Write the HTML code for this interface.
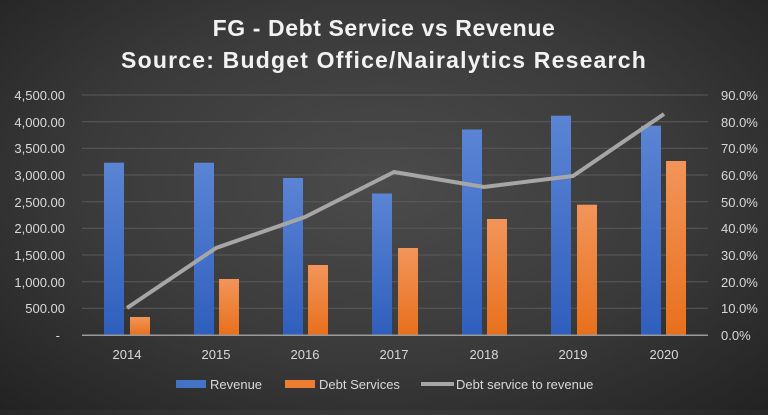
<!DOCTYPE html>
<html><head><meta charset="utf-8"><style>
html,body{margin:0;padding:0}
body{width:768px;height:410px;overflow:hidden;background:radial-gradient(ellipse at 50% 45%,#4b4b4b 0%,#3a3a3a 55%,#222 100%);font-family:"Liberation Sans",sans-serif}
</style></head><body>
<svg width="768" height="410" xmlns="http://www.w3.org/2000/svg" font-family="Liberation Sans, sans-serif">
<defs>
<linearGradient id="b" x1="0" y1="0" x2="0" y2="1"><stop offset="0" stop-color="#5b84d4"/><stop offset="1" stop-color="#2f5fbd"/></linearGradient>
<linearGradient id="o" x1="0" y1="0" x2="0" y2="1"><stop offset="0" stop-color="#f2955a"/><stop offset="1" stop-color="#e8701c"/></linearGradient>
</defs>
<text x="384" y="36" text-anchor="middle" fill="#f2f2f2" font-size="23" font-weight="bold" letter-spacing="0.6">FG - Debt Service vs Revenue</text>
<text x="384" y="68" text-anchor="middle" fill="#f2f2f2" font-size="23" font-weight="bold" letter-spacing="1.2">Source: Budget Office/Nairalytics Research</text>
<g stroke="#5a5a5a" stroke-width="1">
<line x1="82" x2="708" y1="95" y2="95"/><line x1="82" x2="708" y1="121.7" y2="121.7"/><line x1="82" x2="708" y1="148.3" y2="148.3"/><line x1="82" x2="708" y1="175" y2="175"/><line x1="82" x2="708" y1="201.7" y2="201.7"/><line x1="82" x2="708" y1="228.3" y2="228.3"/><line x1="82" x2="708" y1="255" y2="255"/><line x1="82" x2="708" y1="281.7" y2="281.7"/><line x1="82" x2="708" y1="308.3" y2="308.3"/>
</g>
<g fill="#d9d9d9" font-size="13" text-anchor="end">
<text x="65" y="100">4,500.00</text><text x="65" y="127">4,000.00</text><text x="65" y="153">3,500.00</text><text x="65" y="180">3,000.00</text><text x="65" y="207">2,500.00</text><text x="65" y="233">2,000.00</text><text x="65" y="260">1,500.00</text><text x="65" y="287">1,000.00</text><text x="65" y="313">500.00</text><text x="60" y="340">-</text>
</g>
<g fill="#d9d9d9" font-size="13">
<text x="721" y="100">90.0%</text><text x="721" y="127">80.0%</text><text x="721" y="153">70.0%</text><text x="721" y="180">60.0%</text><text x="721" y="207">50.0%</text><text x="721" y="233">40.0%</text><text x="721" y="260">30.0%</text><text x="721" y="287">20.0%</text><text x="721" y="313">10.0%</text><text x="721" y="340">0.0%</text>
</g>
<g fill="url(#b)">
<rect x="104" y="162.7" width="20" height="172.3"/>
<rect x="194" y="162.7" width="20" height="172.3"/>
<rect x="283" y="178" width="20" height="157"/>
<rect x="372" y="193.5" width="20" height="141.5"/>
<rect x="462" y="129.5" width="20" height="205.5"/>
<rect x="551" y="115.7" width="20" height="219.3"/>
<rect x="641" y="125.7" width="20" height="209.3"/>
</g>
<g fill="url(#o)">
<rect x="130" y="317" width="20" height="18"/>
<rect x="219" y="279" width="20" height="56"/>
<rect x="308" y="265" width="20" height="70"/>
<rect x="398" y="248" width="20" height="87"/>
<rect x="487" y="219" width="20" height="116"/>
<rect x="577" y="204.7" width="20" height="130.3"/>
<rect x="666" y="161" width="20" height="174"/>
</g>
<line x1="82" x2="708" y1="335.3" y2="335.3" stroke="#9a9a9a" stroke-width="1.5"/>
<polyline points="127,308 216,248 305,217 394,172 484,187 573,176 664,114" fill="none" stroke="#a6a6a6" stroke-width="4" stroke-linejoin="round"/>
<g fill="#d9d9d9" font-size="13" text-anchor="middle">
<text x="127" y="359">2014</text><text x="216" y="359">2015</text><text x="305" y="359">2016</text><text x="394" y="359">2017</text><text x="484" y="359">2018</text><text x="573" y="359">2019</text><text x="664" y="359">2020</text>
</g>
<rect x="176" y="380" width="30" height="8" fill="#4472c4"/>
<text x="210" y="389" fill="#d9d9d9" font-size="13">Revenue</text>
<rect x="285" y="380" width="30" height="8" fill="#ed7d31"/>
<text x="319" y="389" fill="#d9d9d9" font-size="13">Debt Services</text>
<line x1="421" x2="454" y1="384" y2="384" stroke="#a6a6a6" stroke-width="4"/>
<text x="456" y="389" fill="#d9d9d9" font-size="13">Debt service to revenue</text>
</svg>
</body></html>
